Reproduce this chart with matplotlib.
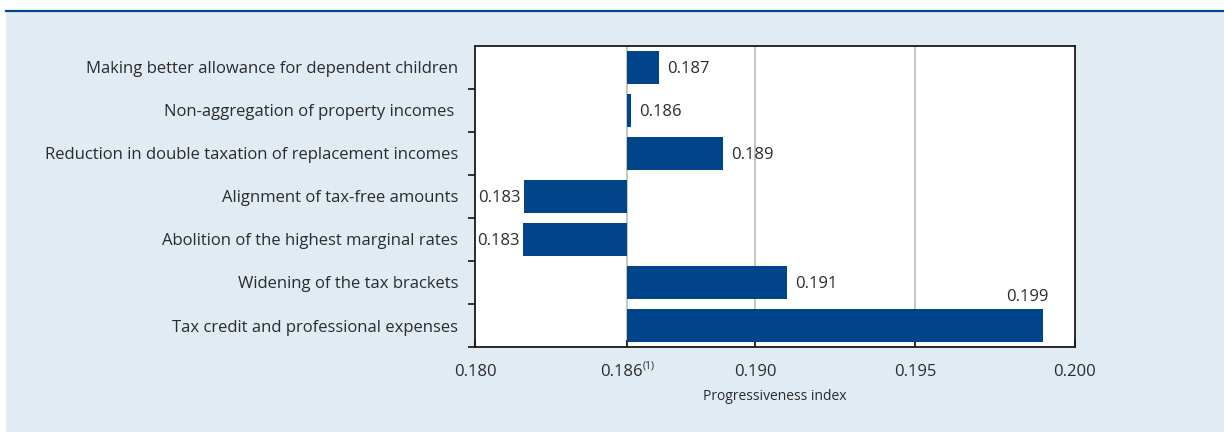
import matplotlib
matplotlib.use("Agg")
import matplotlib.pyplot as plt
from matplotlib.patches import Rectangle
from matplotlib.lines import Line2D
from matplotlib.transforms import ScaledTranslation

# --- Data ---
categories = [
    "Making better allowance for dependent children",
    "Non-aggregation of property incomes ",
    "Reduction in double taxation of replacement incomes",
    "Alignment of tax-free amounts",
    "Abolition of the highest marginal rates",
    "Widening of the tax brackets",
    "Tax credit and professional expenses",
]
values = [0.18701, 0.18613, 0.18901, 0.18278, 0.18275, 0.19100, 0.19900]
baseline = 0.186
tick_values = [0.18125, 0.186, 0.190, 0.195, 0.200]
tick_labels = ["0.180", "0.186", "0.190", "0.195", "0.200"]

# --- Style ---
plt.rcParams["font.family"] = ["Open Sans", "DejaVu Sans"]
text_col = "#2b2b2b"
bar_col = "#00458a"
bg_col = "#e1ebf3"
fs = 12

fig = plt.figure(figsize=(12.24, 4.32), dpi=100)
fig.patch.set_facecolor("white")
fig.add_artist(Rectangle((6 / 1224, 0), 1, 421 / 432, transform=fig.transFigure,
                         facecolor=bg_col, edgecolor="none", zorder=-10))
fig.add_artist(Line2D([6 / 1224, 1], [421 / 432, 421 / 432], transform=fig.transFigure,
                      color=bar_col, lw=1.6))

ax = fig.add_axes([475 / 1224, 1 - 347 / 432, 600 / 1224, 301 / 432])
ax.set_facecolor("white")

n = len(categories)
ypos = list(range(n))[::-1]
widths = [v - baseline for v in values]
ax.barh(ypos, widths, left=baseline, height=0.78, color=bar_col, zorder=3)

ax.set_xlim(tick_values[0], tick_values[-1])
ax.set_ylim(-0.5, n - 0.5)

# grid lines
for gx in tick_values[1:-1]:
    ax.axvline(gx, color="#b5b5b5", lw=1.1, zorder=1)

# value labels
for y, v in zip(ypos, values):
    lab = f"{v:.3f}"
    if v < baseline:
        ax.text(v - 0.0001, y, lab, ha="right", va="center_baseline", fontsize=fs, color=text_col)
    elif v >= 0.195:
        ax.text(v - 0.0005, y + 0.47, lab, ha="center", va="bottom", fontsize=fs, color=text_col)
    else:
        ax.text(v + 0.00025, y, lab, ha="left", va="center_baseline", fontsize=fs, color=text_col)

ax.set_xticks(tick_values)
ax.set_xticklabels(tick_labels, fontsize=fs, color=text_col)
ax.tick_params(axis="x", direction="in", length=5, width=1.1, pad=12)

# footnote marker on the 0.186 label
lbl = ax.get_xticklabels()[1]
lbl.set_transform(lbl.get_transform() + ScaledTranslation(-6 / 100, 0, fig.dpi_scale_trans))
ax.annotate("(1)", xy=(baseline, 0), xycoords=("data", "axes fraction"),
            xytext=(11, -14), textcoords="offset points", ha="left", va="center",
            fontsize=7.5, color=text_col)

ax.set_yticks(ypos)
ax.set_yticklabels(categories, fontsize=fs, color=text_col)
ax.set_yticks([i - 0.5 for i in range(n)], minor=True)
ax.tick_params(axis="y", which="major", length=0, pad=12)
ax.tick_params(axis="y", which="minor", direction="out", length=5, width=1.1)

for s in ax.spines.values():
    s.set_linewidth(1.3)
    s.set_color("#1a1a1a")

ax.set_xlabel("Progressiveness index", fontsize=10, color=text_col, labelpad=7)

fig.savefig("out.png", dpi=100, facecolor=fig.get_facecolor())
